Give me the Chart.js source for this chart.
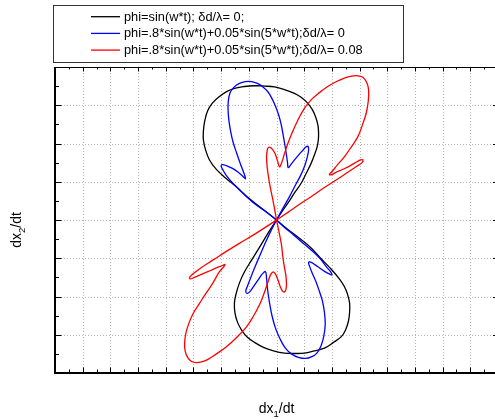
<!DOCTYPE html>
<html>
<head>
<meta charset="utf-8">
<script src="https://cdn.jsdelivr.net/npm/chart.js@4/dist/chart.umd.min.js"></script>
<style>
  html, body { margin: 0; padding: 0; background: #fff; overflow: hidden; }
  canvas { display: block; }
</style>
</head>
<body>
<canvas id="plot" width="503" height="419"></canvas>
<script>
// Axis ranges (grid units) and tick steps
const X_MIN = -8, X_MAX = 8, Y_MIN = -4, Y_MAX = 4;
const MAJOR_STEP = 1, MINOR_STEP = 0.5;

const seriesLabels = [
  'phi=sin(w*t); \u03b4d/\u03bb= 0;',
  'phi=.8*sin(w*t)+0.05*sin(5*w*t);\u03b4d/\u03bb= 0',
  'phi=.8*sin(w*t)+0.05*sin(5*w*t);\u03b4d/\u03bb= 0.08'
];

// phi = sin(w t), no shift: upper lobe then lower lobe
const blackX = [0,-0.54,-1.05,-1.44,-1.84,-2.18,-2.42,-2.56,-2.64,-2.64,-2.60,-2.49,-2.31,-2.06,-1.77,-1.48,-1.16,-0.79,-0.43,-0.07,0.29,0.65,0.90,1.13,1.30,1.43,1.50,1.52,1.51,1.47,1.37,1.25,1.08,0.89,0.65,0.41,0.18,0,
  -0.31,-0.61,-0.90,-1.16,-1.34,-1.46,-1.52,-1.50,-1.41,-1.26,-1.06,-0.79,-0.47,-0.11,0.29,0.65,1.01,1.37,1.73,2.06,2.34,2.49,2.60,2.64,2.64,2.56,2.45,2.27,1.97,1.62,1.25,0.83,0.40,0];
const blackY = [0,0.31,0.60,0.86,1.10,1.33,1.57,1.83,2.09,2.33,2.56,2.85,3.06,3.23,3.37,3.45,3.49,3.51,3.50,3.48,3.41,3.31,3.20,3.05,2.88,2.66,2.46,2.27,2.09,1.92,1.70,1.48,1.23,0.96,0.71,0.44,0.20,0,
  -0.35,-0.71,-1.05,-1.36,-1.65,-1.93,-2.17,-2.43,-2.67,-2.88,-3.06,-3.20,-3.33,-3.42,-3.48,-3.49,-3.48,-3.42,-3.35,-3.20,-3.05,-2.88,-2.64,-2.41,-2.17,-1.93,-1.74,-1.54,-1.28,-1.02,-0.73,-0.48,-0.24,0];

// phi with 5th harmonic, no shift
const blueX = [0,-0.43,-0.87,-1.23,-1.55,-1.81,-1.95,-2.00,-1.95,-1.81,-1.59,-1.37,-1.21,-1.12,-1.19,-1.30,-1.44,-1.57,-1.66,-1.72,-1.75,-1.74,-1.68,-1.55,-1.34,-1.12,-0.90,-0.69,-0.49,-0.32,-0.18,-0.04,0.09,0.18,0.25,0.31,0.36,0.40,0.42,0.51,0.65,0.81,0.96,1.06,1.14,1.16,1.12,1.03,0.88,0.69,0.47,0.22,0,
  -0.22,-0.43,-0.61,-0.79,-0.94,-1.05,-1.11,-1.06,-0.97,-0.83,-0.67,-0.51,-0.40,-0.36,-0.32,-0.25,-0.16,-0.04,0.13,0.32,0.54,0.79,1.05,1.26,1.46,1.61,1.71,1.76,1.73,1.66,1.55,1.43,1.28,1.19,1.16,1.23,1.37,1.55,1.75,1.91,2.00,1.97,1.81,1.55,1.23,0.87,0.54,0.27,0];
const blueY = [0,0.24,0.47,0.71,0.94,1.16,1.33,1.41,1.45,1.42,1.35,1.24,1.14,1.08,1.25,1.46,1.75,2.04,2.33,2.61,2.88,3.11,3.32,3.46,3.57,3.62,3.62,3.57,3.48,3.36,3.20,2.98,2.72,2.46,2.18,1.93,1.70,1.49,1.37,1.44,1.57,1.71,1.83,1.91,1.92,1.83,1.67,1.44,1.18,0.92,0.61,0.29,0,
  -0.31,-0.64,-0.94,-1.25,-1.52,-1.73,-1.86,-1.92,-1.88,-1.74,-1.57,-1.41,-1.35,-1.52,-1.83,-2.17,-2.51,-2.82,-3.11,-3.35,-3.50,-3.59,-3.62,-3.58,-3.48,-3.29,-3.03,-2.72,-2.41,-2.12,-1.87,-1.62,-1.37,-1.20,-1.11,-1.10,-1.16,-1.25,-1.35,-1.41,-1.44,-1.37,-1.23,-0.99,-0.77,-0.55,-0.34,-0.18,0];

// phi with 5th harmonic, shift 0.08
const redX = [0,-0.07,-0.13,-0.22,-0.29,-0.34,-0.36,-0.34,-0.31,-0.23,-0.14,-0.05,0.04,0.11,0.18,0.29,0.41,0.58,0.77,0.99,1.25,1.55,1.85,2.17,2.45,2.71,2.94,3.12,3.24,3.31,3.33,3.31,3.24,3.10,2.94,2.71,2.45,2.20,2.02,1.91,1.97,2.13,2.38,2.64,2.85,3.03,3.12,3.09,2.89,2.56,2.21,1.73,1.25,0.83,0.41,0,
  -0.42,-0.83,-1.34,-1.81,-2.30,-2.71,-3.00,-3.14,-3.12,-2.96,-2.67,-2.38,-2.13,-1.95,-1.86,-1.90,-2.06,-2.30,-2.55,-2.78,-3.00,-3.16,-3.27,-3.32,-3.30,-3.21,-3.07,-2.90,-2.71,-2.49,-2.17,-1.82,-1.44,-1.09,-0.83,-0.61,-0.47,-0.37,-0.29,-0.22,-0.13,-0.05,0.04,0.13,0.22,0.29,0.34,0.36,0.34,0.29,0.23,0.18,0.09,0];
const redY = [0,0.29,0.52,0.84,1.13,1.41,1.65,1.80,1.88,1.90,1.84,1.73,1.54,1.39,1.48,1.74,2.00,2.31,2.61,2.90,3.14,3.33,3.49,3.62,3.71,3.76,3.77,3.73,3.62,3.48,3.31,3.08,2.79,2.48,2.18,1.92,1.65,1.44,1.28,1.19,1.18,1.24,1.32,1.41,1.50,1.57,1.57,1.50,1.40,1.24,1.07,0.85,0.61,0.41,0.20,0,
  -0.20,-0.39,-0.61,-0.82,-1.05,-1.24,-1.40,-1.50,-1.54,-1.50,-1.41,-1.32,-1.24,-1.19,-1.16,-1.22,-1.35,-1.65,-1.92,-2.18,-2.43,-2.69,-2.95,-3.22,-3.42,-3.59,-3.70,-3.73,-3.71,-3.65,-3.50,-3.32,-3.07,-2.80,-2.51,-2.21,-1.96,-1.75,-1.58,-1.44,-1.36,-1.40,-1.54,-1.73,-1.86,-1.88,-1.82,-1.67,-1.46,-1.25,-0.97,-0.65,-0.31,0];

const toPoints = (xs, ys) => xs.map((x, i) => ({ x, y: ys[i] }));

const FONT = '"Liberation Sans", Arial, Helvetica, sans-serif';

const isMajor = v => Math.abs(v / MAJOR_STEP - Math.round(v / MAJOR_STEP)) < 1e-9;

// Dotted grid at the major tick values
const gridPlugin = {
  id: 'dottedGrid',
  beforeDatasetsDraw(chart) {
    const { ctx, chartArea: a, scales: { x, y } } = chart;
    ctx.save();
    ctx.strokeStyle = '#b4b4b4';
    ctx.lineWidth = 1;
    ctx.setLineDash([1, 2]);
    for (let v = X_MIN + MAJOR_STEP; v < X_MAX - 1e-9; v += MAJOR_STEP) {
      const px = Math.round(x.getPixelForValue(v)) + 0.5;
      ctx.beginPath(); ctx.moveTo(px, a.top); ctx.lineTo(px, a.bottom); ctx.stroke();
    }
    for (let v = Y_MIN + MAJOR_STEP; v < Y_MAX - 1e-9; v += MAJOR_STEP) {
      const py = Math.round(y.getPixelForValue(v)) + 0.5;
      ctx.beginPath(); ctx.moveTo(a.left, py); ctx.lineTo(a.right, py); ctx.stroke();
    }
    ctx.restore();
  }
};

// Frame with inward-pointing major/minor ticks on all four sides
const framePlugin = {
  id: 'frame',
  afterDraw(chart) {
    const { ctx, chartArea: a, scales: { x, y } } = chart;
    ctx.save();
    ctx.strokeStyle = '#000';
    const seg = (x1, y1, x2, y2) => { ctx.beginPath(); ctx.moveTo(x1, y1); ctx.lineTo(x2, y2); ctx.stroke(); };
    ctx.lineWidth = 1;
    for (let v = X_MIN + MINOR_STEP; v < X_MAX - 1e-9; v += MINOR_STEP) {
      const px = Math.round(x.getPixelForValue(v)) + 0.5;
      const major = isMajor(v);
      seg(px, a.bottom, px, a.bottom - (major ? 5.5 : 3.5));
      seg(px, a.top, px, a.top + (major ? 4.5 : 2.5));
    }
    for (let v = Y_MIN + MINOR_STEP; v < Y_MAX - 1e-9; v += MINOR_STEP) {
      const py = Math.round(y.getPixelForValue(v)) + 0.5;
      const major = isMajor(v);
      seg(a.left, py, a.left + (major ? 6.5 : 4), py);
      seg(a.right, py, a.right - (major ? 5 : 3), py);
    }
    ctx.lineWidth = 1;
    seg(a.left, a.top + 0.5, a.right, a.top + 0.5);
    seg(a.right, a.top, a.right, a.bottom);
    ctx.lineWidth = 2;
    seg(a.left, a.top, a.left, a.bottom + 1);
    seg(a.left, a.bottom, a.right, a.bottom);
    ctx.restore();
  }
};

// Axis titles with subscripted index
function drawSubscripted(ctx, parts, cx, baseY, size, subSize, subShift) {
  let total = 0;
  parts.forEach(p => {
    ctx.font = (p.sub ? subSize : size) + 'px ' + FONT;
    p.w = ctx.measureText(p.t).width;
    total += p.w;
  });
  let xx = cx - total / 2;
  parts.forEach(p => {
    ctx.font = (p.sub ? subSize : size) + 'px ' + FONT;
    ctx.fillText(p.t, xx, baseY + (p.sub ? subShift : 0));
    xx += p.w;
  });
}

const titlesPlugin = {
  id: 'titles',
  afterDraw(chart) {
    const { ctx, chartArea: a } = chart;
    ctx.save();
    ctx.fillStyle = '#000';
    ctx.textBaseline = 'alphabetic';
    ctx.textAlign = 'left';
    drawSubscripted(ctx, [{ t: 'dx' }, { t: '1', sub: true }, { t: '/dt' }], (a.left + a.right) / 2, 412.5, 14, 9.5, 4);
    ctx.translate(21, 230);
    ctx.rotate(-Math.PI / 2);
    drawSubscripted(ctx, [{ t: 'dx' }, { t: '2', sub: true }, { t: '/dt' }], 0, 0, 14, 9.5, 4);
    ctx.restore();
  }
};

// Boxed legend above the plot
const legendPlugin = {
  id: 'boxLegend',
  afterDraw(chart) {
    const ctx = chart.ctx;
    ctx.save();
    ctx.fillStyle = '#fff';
    ctx.fillRect(53.5, 5.5, 350, 57);
    ctx.strokeStyle = '#333';
    ctx.lineWidth = 1;
    ctx.strokeRect(53.5, 5.5, 350, 57);
    chart.data.datasets.forEach((ds, i) => {
      const yy = 16.7 + i * 16.7;
      ctx.strokeStyle = ds.borderColor;
      ctx.lineWidth = 1.3;
      ctx.beginPath(); ctx.moveTo(91, yy); ctx.lineTo(120, yy); ctx.stroke();
      ctx.fillStyle = '#000';
      ctx.font = '12.8px ' + FONT;
      ctx.textBaseline = 'middle';
      ctx.fillText(ds.label, 124, yy + 0.5);
    });
    ctx.restore();
  }
};

const lineDataset = (label, xs, ys, color, order) => ({
  label, data: toPoints(xs, ys), borderColor: color, backgroundColor: color,
  showLine: true, borderWidth: 1.3, pointRadius: 0, tension: 0.4, fill: false, order
});

new Chart(document.getElementById('plot'), {
  type: 'scatter',
  data: {
    datasets: [
      lineDataset(seriesLabels[0], blackX, blackY, '#000000', 3),
      lineDataset(seriesLabels[1], blueX, blueY, '#0000ff', 2),
      lineDataset(seriesLabels[2], redX, redY, '#ff0000', 1)
    ]
  },
  options: {
    responsive: false,
    animation: false,
    events: [],
    layout: { padding: { left: 55, top: 67, right: 5, bottom: 46 } },
    plugins: { legend: { display: false }, tooltip: { enabled: false } },
    scales: {
      x: {
        type: 'linear', min: X_MIN, max: X_MAX,
        ticks: { display: false, stepSize: MAJOR_STEP },
        grid: { display: false },
        border: { display: false },
        afterFit(s) { s.height = 0; }
      },
      y: {
        type: 'linear', min: Y_MIN, max: Y_MAX,
        ticks: { display: false, stepSize: MAJOR_STEP },
        grid: { display: false },
        border: { display: false },
        afterFit(s) { s.width = 0; }
      }
    }
  },
  plugins: [gridPlugin, framePlugin, titlesPlugin, legendPlugin]
});
</script>
</body>
</html>
